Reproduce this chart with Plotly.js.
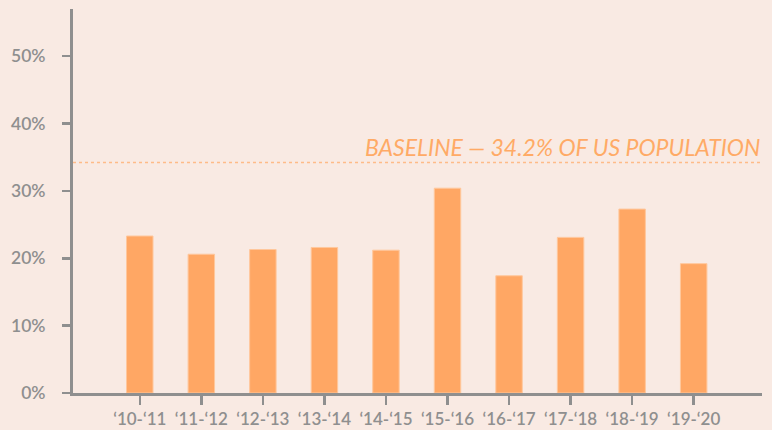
<!DOCTYPE html>
<html>
<head>
<meta charset="utf-8">
<script src="https://cdn.plot.ly/plotly-3.0.1.min.js"></script>
<style>html,body{margin:0;padding:0;background:#f9eae3;}</style>
</head>
<body>
<div id="chart" style="width:772px;height:430px;"></div>
<script>
const seasons = ["\u201810-\u201811","\u201811-\u201812","\u201812-\u201813","\u201813-\u201814","\u201814-\u201815","\u201815-\u201816","\u201816-\u201817","\u201817-\u201818","\u201818-\u201819","\u201819-\u201820"];
const shares = [23.3, 20.6, 21.3, 21.6, 21.2, 30.4, 17.4, 23.1, 27.3, 19.2];
const baseline = 34.2;
const baselineLabel = "BASELINE \u2014 34.2% OF US POPULATION";
const yTicks = [0, 10, 20, 30, 40, 50];
const yTickLabels = ["0%", "10%", "20%", "30%", "40%", "50%"];

const grey = "#8f8f8f";
const trace = {
  type: "bar",
  x: seasons.map((_, i) => i),
  y: shares,
  width: 0.43,
  marker: {color: "#ffa764", line: {color: "#ffc79c", width: 1}},
  hoverinfo: "skip"
};
const layout = {
  width: 772, height: 430,
  paper_bgcolor: "#f9eae3", plot_bgcolor: "#f9eae3",
  margin: {l: 72.5, r: 10, t: 9, b: 37},
  showlegend: false,
  font: {family: "Lato, 'Open Sans', sans-serif", color: grey, size: 17},
  xaxis: {
    range: [-1.085, 10.11],
    tickmode: "array", tickvals: seasons.map((_, i) => i), ticktext: seasons,
    showline: true, linecolor: grey, linewidth: 3,
    ticks: "outside", ticklen: 9, tickwidth: 2.5, tickcolor: grey,
    showgrid: false, zeroline: false,
    tickfont: {size: 17, color: grey, family: "Lato, sans-serif", weight: 600}
  },
  yaxis: {
    range: [0, 57],
    tickmode: "array", tickvals: yTicks, ticktext: yTickLabels,
    showline: true, linecolor: grey, linewidth: 3,
    ticks: "outside", ticklen: 8, tickwidth: 2.5, tickcolor: grey,
    ticklabelstandoff: 13,
    showgrid: false, zeroline: false,
    tickfont: {size: 17.5, color: grey, family: "Lato, sans-serif", weight: 600}
  },
  shapes: [{
    type: "line", xref: "paper", x0: 0, x1: 1, yref: "y", y0: baseline, y1: baseline,
    line: {color: "#ffbb88", width: 1.5, dash: "dot"}
  }],
  annotations: [{
    xref: "paper", x: 1, xanchor: "right", yref: "y", y: baseline, yanchor: "bottom",
    yshift: 0, text: "<i>" + baselineLabel + "</i>", showarrow: false,
    font: {size: 23, color: "#ffaa66", family: "Lato, sans-serif"}
  }]
};
Plotly.newPlot("chart", [trace], layout, {displayModeBar: false, staticPlot: true});
</script>
</body>
</html>
